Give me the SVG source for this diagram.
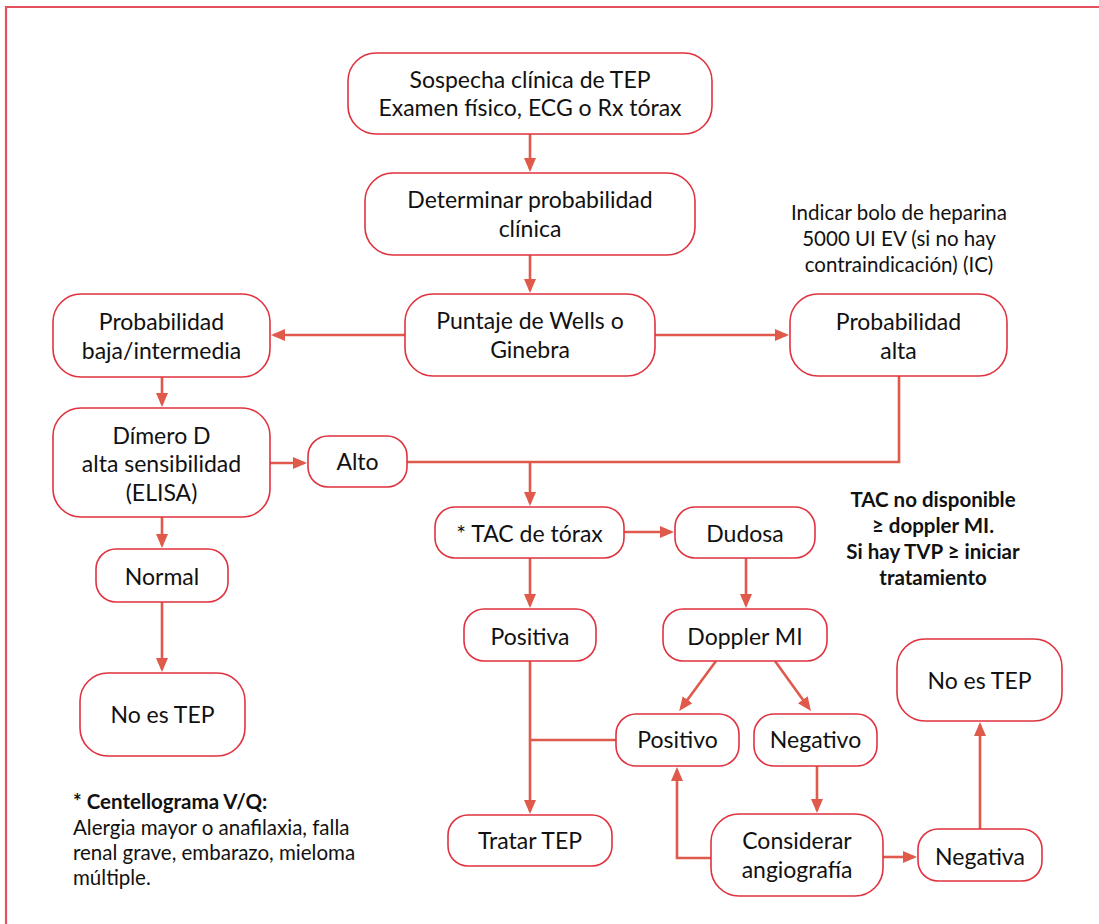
<svg xmlns="http://www.w3.org/2000/svg" width="1099" height="924" viewBox="0 0 1099 924">
<style>
.box{fill:#fff;stroke:#e0323f;stroke-width:1.6}
.t{font-family:Lato,"Open Sans","Liberation Sans",sans-serif;font-size:23px;fill:#111;text-anchor:middle}
.s{font-family:Lato,"Open Sans","Liberation Sans",sans-serif;font-size:20.5px;fill:#111;text-anchor:middle}
.b{font-family:Lato,"Open Sans","Liberation Sans",sans-serif;font-size:20.5px;font-weight:bold;fill:#111;text-anchor:middle}
.f{font-family:Lato,"Open Sans","Liberation Sans",sans-serif;font-size:20.5px;fill:#111}
.c{fill:none;stroke:#e05a4b;stroke-width:2.6}
.a{marker-end:url(#arr)}
</style>
<defs>
<marker id="arr" markerUnits="userSpaceOnUse" markerWidth="15" markerHeight="14" refX="11" refY="7" orient="auto">
<path d="M0,1 L14,7 L0,13 z" fill="#e05a4b"/>
</marker>
</defs>
<rect width="1099" height="924" fill="#fff"/>
<path d="M6,924 V7 H1099" fill="none" stroke="#e4505c" stroke-width="2.2"/>

<g id="connectors">
<line class="c a" x1="530" y1="134" x2="530" y2="169"/>
<line class="c a" x1="530" y1="255" x2="530" y2="290"/>
<line class="c a" x1="405" y1="335" x2="274" y2="335"/>
<line class="c a" x1="655" y1="335" x2="786" y2="335"/>
<line class="c a" x1="162" y1="377" x2="162" y2="404"/>
<line class="c a" x1="270" y1="463" x2="304" y2="463"/>
<line class="c a" x1="162" y1="517" x2="162" y2="545"/>
<line class="c a" x1="162" y1="602" x2="162" y2="669"/>
<polyline class="c" points="407,462 899,462 899,376"/>
<line class="c a" x1="530" y1="462" x2="530" y2="503"/>
<line class="c a" x1="624" y1="532" x2="671" y2="532"/>
<line class="c a" x1="746" y1="558" x2="746" y2="605"/>
<line class="c a" x1="530" y1="558" x2="530" y2="605"/>
<line class="c a" x1="716" y1="661" x2="681" y2="708.6"/>
<line class="c a" x1="775" y1="661" x2="809.2" y2="708.6"/>
<line class="c a" x1="530" y1="661" x2="530" y2="811"/>
<line class="c" x1="530" y1="740" x2="616" y2="740"/>
<line class="c a" x1="817" y1="766" x2="817" y2="810"/>
<polyline class="c a" points="711,858 677,858 677,770"/>
<line class="c a" x1="883" y1="857" x2="914" y2="857"/>
<line class="c a" x1="980" y1="829" x2="980" y2="725"/>
</g>

<g id="n-sospecha">
<rect class="box" x="348" y="53" width="364" height="81" rx="28"/>
<text class="t" x="530" y="88">Sospecha clínica de TEP</text>
<text class="t" x="530" y="116">Examen físico, ECG o Rx tórax</text>
</g>
<g id="n-determinar">
<rect class="box" x="365" y="173" width="330" height="82" rx="28"/>
<text class="t" x="530" y="208">Determinar probabilidad</text>
<text class="t" x="530" y="236.5">clínica</text>
</g>
<g id="n-puntaje">
<rect class="box" x="405" y="294" width="250" height="82" rx="28"/>
<text class="t" x="530" y="329">Puntaje de Wells o</text>
<text class="t" x="530" y="357.5">Ginebra</text>
</g>
<g id="n-baja">
<rect class="box" x="53" y="294" width="217" height="83" rx="28"/>
<text class="t" x="161.5" y="330">Probabilidad</text>
<text class="t" x="161.5" y="358.5">baja/intermedia</text>
</g>
<g id="n-alta">
<rect class="box" x="790" y="294" width="217" height="82" rx="28"/>
<text class="t" x="898.5" y="330">Probabilidad</text>
<text class="t" x="898.5" y="358.5">alta</text>
</g>
<g id="n-heparina">
<text class="s" x="899" y="220">Indicar bolo de heparina</text>
<text class="s" x="899" y="246">5000 UI EV (si no hay</text>
<text class="s" x="899" y="272">contraindicación) (IC)</text>
</g>
<g id="n-dimero">
<rect class="box" x="53" y="408" width="217" height="109" rx="28"/>
<text class="t" x="161.5" y="443.5">Dímero D</text>
<text class="t" x="161.5" y="472">alta sensibilidad</text>
<text class="t" x="161.5" y="500.5">(ELISA)</text>
</g>
<g id="n-alto">
<rect class="box" x="308" y="436" width="99" height="51" rx="20"/>
<text class="t" x="357.5" y="470">Alto</text>
</g>
<g id="n-normal">
<rect class="box" x="96" y="549" width="132" height="53" rx="20"/>
<text class="t" x="162" y="585">Normal</text>
</g>
<g id="n-noestep-left">
<rect class="box" x="80" y="673" width="165" height="83" rx="28"/>
<text class="t" x="162.5" y="723">No es TEP</text>
</g>
<g id="n-tac">
<rect class="box" x="435" y="507" width="189" height="51" rx="20"/>
<text class="t" x="529.5" y="542">* TAC de tórax</text>
</g>
<g id="n-dudosa">
<rect class="box" x="675" y="507" width="140" height="51" rx="20"/>
<text class="t" x="745" y="542">Dudosa</text>
</g>
<g id="n-nota-tac">
<text class="b" x="933" y="507">TAC no disponible</text>
<text class="b" x="933" y="533">≥ doppler MI.</text>
<text class="b" x="933" y="559">Si hay TVP ≥ iniciar</text>
<text class="b" x="933" y="585">tratamiento</text>
</g>
<g id="n-positiva">
<rect class="box" x="464" y="609" width="132" height="52" rx="20"/>
<text class="t" x="530" y="645">Positiva</text>
</g>
<g id="n-doppler">
<rect class="box" x="663" y="609" width="164" height="52" rx="20"/>
<text class="t" x="745" y="645">Doppler MI</text>
</g>
<g id="n-positivo">
<rect class="box" x="616" y="714" width="123" height="52" rx="20"/>
<text class="t" x="677.5" y="748">Positivo</text>
</g>
<g id="n-negativo">
<rect class="box" x="754" y="714" width="123" height="52" rx="20"/>
<text class="t" x="815.5" y="748">Negativo</text>
</g>
<g id="n-noestep-right">
<rect class="box" x="897" y="639" width="165" height="82" rx="28"/>
<text class="t" x="979.5" y="689">No es TEP</text>
</g>
<g id="n-considerar">
<rect class="box" x="711" y="814" width="172" height="82" rx="28"/>
<text class="t" x="797" y="849">Considerar</text>
<text class="t" x="797" y="877.5">angiografía</text>
</g>
<g id="n-negativa">
<rect class="box" x="918" y="829" width="124" height="52" rx="20"/>
<text class="t" x="980" y="865">Negativa</text>
</g>
<g id="n-tratar">
<rect class="box" x="448" y="815" width="164" height="51" rx="20"/>
<text class="t" x="530" y="849">Tratar TEP</text>
</g>
<g id="n-footnote">
<text class="f" x="73" y="809" font-weight="bold">* Centellograma V/Q:</text>
<text class="f" x="73" y="835">Alergia mayor o anafilaxia, falla</text>
<text class="f" x="73" y="860">renal grave, embarazo, mieloma</text>
<text class="f" x="73" y="885">múltiple.</text>
</g>
</svg>
